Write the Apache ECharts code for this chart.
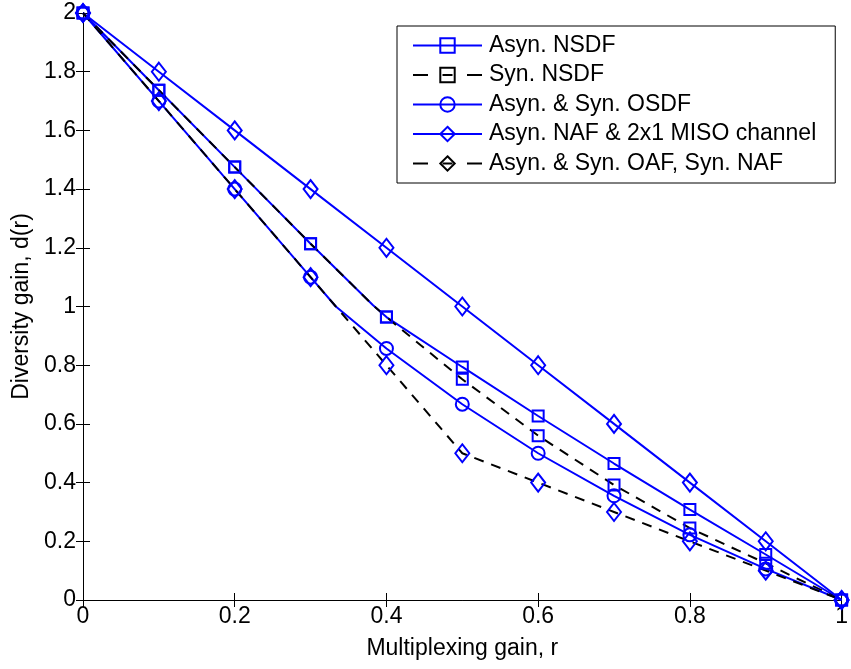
<!DOCTYPE html>
<html>
<head>
<meta charset="utf-8">
<script src="https://cdn.jsdelivr.net/npm/echarts@6/dist/echarts.min.js"></script>
<style>
html,body{margin:0;padding:0;background:#fff;}
#chart{width:851px;height:669px;}
</style>
</head>
<body>
<div id="chart"></div>
<script>
// ---- data ----
const rValues = [0, 0.1, 0.2, 0.3, 0.4, 0.5, 0.6, 0.7, 0.8, 0.9, 1];
const asynNSDF = [2, 1.737, 1.475, 1.214, 0.964, 0.794, 0.627, 0.465, 0.308, 0.155, 0];
const synNSDF  = [2, 1.737, 1.475, 1.214, 0.964, 0.752, 0.560, 0.392, 0.245, 0.125, 0];
const osdf     = [2, 1.7, 1.4, 1.1, 0.857, 0.667, 0.5, 0.355, 0.222, 0.106, 0];
const naf      = [2, 1.8, 1.6, 1.4, 1.2, 1.0, 0.8, 0.6, 0.4, 0.2, 0];
const oaf      = [2, 1.7, 1.4, 1.1, 0.8, 0.5, 0.4, 0.3, 0.2, 0.1, 0];
// corner points of the curves (no marker drawn there)
const nsdfCorner = [0.382, 1.005];
const osdfCorner = [0.3333, 1.0];
const oafCorner  = [0.3333, 1.0];
const seriesNames = ['Asyn. NSDF', 'Syn. NSDF', 'Asyn. & Syn. OSDF', 'Asyn. NAF & 2x1 MISO channel', 'Asyn. & Syn. OAF, Syn. NAF'];
const xTicks = [0, 0.2, 0.4, 0.6, 0.8, 1];
const yTicks = [0, 0.2, 0.4, 0.6, 0.8, 1, 1.2, 1.4, 1.6, 1.8, 2];

function build(vals, corner) {
  const pts = rValues.map((r, i) => ({ value: [r, vals[i]] }));
  if (corner) pts.push({ value: corner, symbol: 'none' });
  pts.sort((a, b) => a.value[0] - b.value[0]);
  return pts;
}

const BLUE = '#0000ff';
const FONT = '"Liberation Sans", Arial, sans-serif';
const FS = 23;

function mkSeries(name, data, symbol, size, lineColor, dashed) {
  return {
    name: name, type: 'line', data: data,
    symbol: symbol, symbolSize: size,
    showAllSymbol: true,
    clip: false,
    lineStyle: { color: lineColor, width: 2, type: dashed ? [10, 8] : 'solid' },
    itemStyle: { color: 'rgba(0,0,0,0)', borderColor: BLUE, borderWidth: 2 },
    emphasis: { disabled: true },
    z: 2
  };
}

const chart = echarts.init(document.getElementById('chart'), null, { renderer: 'canvas' });

const axisCommon = {
  type: 'value', min: 0, interval: 0.2,
  axisLine: { show: true, lineStyle: { color: '#000', width: 1 } },
  axisTick: { show: true, inside: true, length: 7, lineStyle: { color: '#000', width: 1 } },
  splitLine: { show: false },
  nameTextStyle: { color: '#000', fontFamily: FONT, fontSize: FS }
};

chart.setOption({
  animation: false,
  backgroundColor: '#fff',
  grid: { left: 83, right: 4, top: 13, bottom: 69 },
  xAxis: [
    Object.assign({}, axisCommon, {
      max: 1, position: 'bottom',
      name: 'Multiplexing gain, r', nameLocation: 'middle', nameGap: 37,
      axisLabel: { color: '#000', fontFamily: FONT, fontSize: FS, margin: 5,
        formatter: v => xTicks.includes(Math.round(v * 10) / 10) ? String(Math.round(v * 10) / 10) : '' }
    }),
    Object.assign({}, axisCommon, { max: 1, position: 'top', axisLabel: { show: false } })
  ],
  yAxis: [
    Object.assign({}, axisCommon, {
      max: 2, position: 'left',
      name: 'Diversity gain, d(r)', nameLocation: 'middle', nameGap: 50,
      axisLabel: { color: '#000', fontFamily: FONT, fontSize: FS, margin: 7,
        formatter: v => yTicks.includes(Math.round(v * 10) / 10) ? String(Math.round(v * 10) / 10) : '' }
    }),
    Object.assign({}, axisCommon, { max: 2, position: 'right', axisLabel: { show: false } })
  ],
  legend: {
    orient: 'vertical', left: 397, top: 26,
    backgroundColor: '#fff', borderColor: '#000', borderWidth: 1,
    padding: [8, 19, 8, 15],
    itemWidth: 69, itemHeight: 18, itemGap: 6.5,
    textStyle: { color: '#000', fontFamily: FONT, fontSize: FS, lineHeight: 23, padding: [0, 0, 0, 2] },
    selectedMode: false,
    data: [
      { name: seriesNames[0] },
      { name: seriesNames[1], itemStyle: { color: 'rgba(0,0,0,0)', borderColor: '#000' },
        lineStyle: { color: '#000', type: [15, 14.5, 10, 14.5] } },
      { name: seriesNames[2] },
      { name: seriesNames[3] },
      { name: seriesNames[4], itemStyle: { color: 'rgba(0,0,0,0)', borderColor: '#000' },
        lineStyle: { color: '#000', type: [15, 14.5, 10, 14.5] } }
    ]
  },
  series: [
    mkSeries(seriesNames[0], build(asynNSDF, nsdfCorner), 'rect', 11, BLUE, false),
    mkSeries(seriesNames[1], build(synNSDF, nsdfCorner), 'rect', 11, '#000', true),
    mkSeries(seriesNames[2], build(osdf, osdfCorner), 'circle', 13, BLUE, false),
    mkSeries(seriesNames[3], build(naf, null), 'diamond', [14, 18], BLUE, false),
    mkSeries(seriesNames[4], build(oaf, oafCorner), 'diamond', [14, 18], '#000', true)
  ]
});
</script>
</body>
</html>
